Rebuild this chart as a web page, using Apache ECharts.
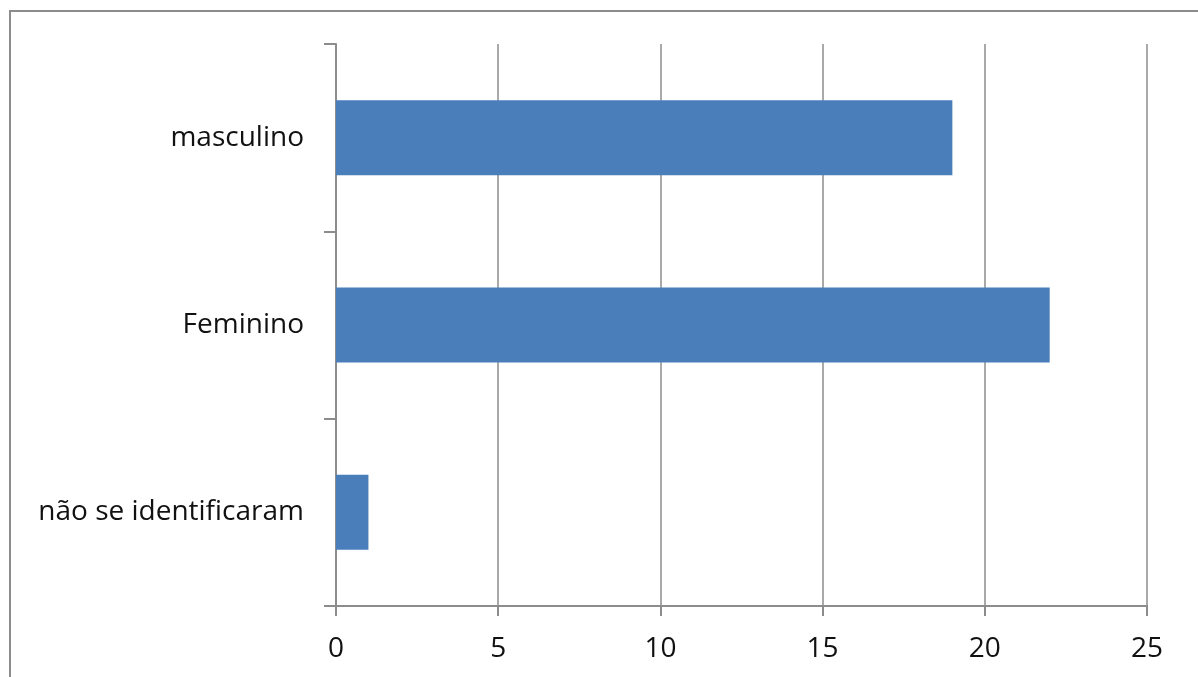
<!DOCTYPE html>
<html>
<head>
<meta charset="utf-8">
<script src="https://cdn.jsdelivr.net/npm/echarts@6/dist/echarts.min.js"></script>
<style>
  html, body { margin: 0; padding: 0; background: #fff; }
  #chart { width: 1198px; height: 677px; }
</style>
</head>
<body>
<div id="chart"></div>
<script>
var categories = ['não se identificaram', 'Feminino', 'masculino'];
var values = [1, 22, 19];
var xTicks = [0, 25, 5];   // min, max, interval

var myChart = echarts.init(document.getElementById('chart'));
var gray = '#8c8c8c';
var option = {
    animation: false,
    graphic: [{
        type: 'rect',
        shape: {x: 10, y: 11, width: 1220, height: 720},
        style: {fill: 'none', stroke: gray, lineWidth: 2}
    }],
    grid: {left: 336, right: 51, top: 44, bottom: 71},
    xAxis: {
        type: 'value',
        min: xTicks[0],
        max: xTicks[1],
        interval: xTicks[2],
        axisLine: {show: true, lineStyle: {color: gray, width: 2}},
        axisTick: {show: true, length: 10, lineStyle: {color: gray, width: 2}},
        splitLine: {show: true, lineStyle: {color: gray, width: 1.5}},
        axisLabel: {
            margin: 29,
            color: '#111',
            fontFamily: 'Open Sans',
            fontSize: 28
        }
    },
    yAxis: {
        type: 'category',
        data: categories,
        axisLine: {show: true, lineStyle: {color: gray, width: 2}},
        axisTick: {show: true, length: 12, lineStyle: {color: gray, width: 2}},
        axisLabel: {
            margin: 32,
            color: '#111',
            fontFamily: 'Open Sans',
            fontSize: 28
        }
    },
    series: [{
        type: 'bar',
        data: values,
        barCategoryGap: '60%',
        itemStyle: {color: '#4a7ebb'}
    }]
};
myChart.setOption(option);
</script>
</body>
</html>
